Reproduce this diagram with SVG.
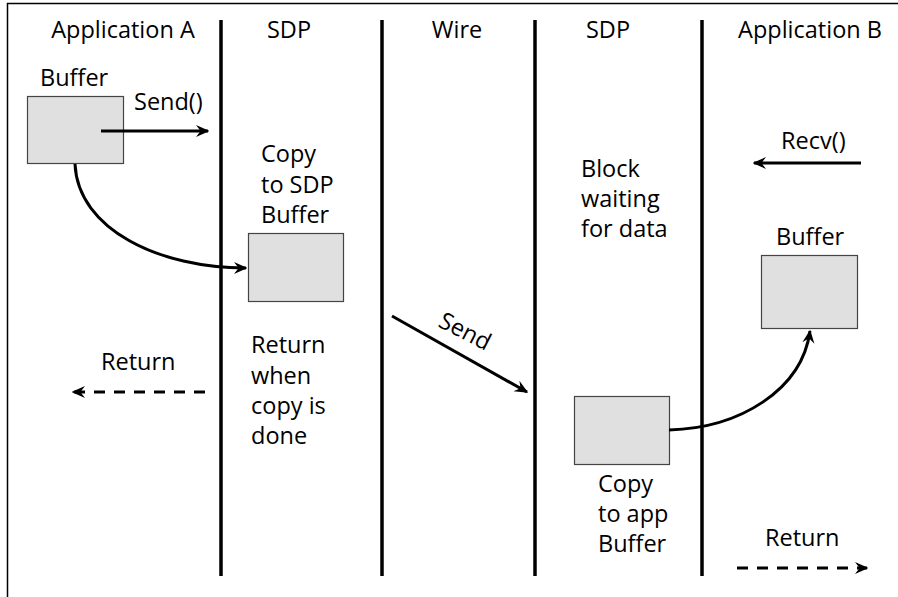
<svg xmlns="http://www.w3.org/2000/svg" width="898" height="597" viewBox="0 0 898 597">
<defs>
<style>
text{font-family:"Open Sans","Noto Sans","Liberation Sans",sans-serif;font-size:23.5px;fill:#000}
.h{text-anchor:middle}
.lane{stroke:#000;stroke-width:3.5}
.box{fill:#e0e0e0;stroke:#444;stroke-width:1.2}
.c{fill:none;stroke:#000;stroke-width:3}
.d{stroke-dasharray:11,9}
</style>
<marker id="ah" viewBox="0 0 10 10" refX="9" refY="5" markerWidth="4.5" markerHeight="4.5" orient="auto" markerUnits="strokeWidth">
<path d="M0,0.5 L10,5 L0,9.5 L3.5,5 Z" fill="#000"/>
</marker>
</defs>
<rect x="0" y="0" width="898" height="597" fill="#fff"/>
<path d="M7.5,600 V3.5 H900" fill="none" stroke="#000" stroke-width="1.5"/>
<g id="lanes">
<line class="lane" x1="221" y1="20" x2="221" y2="576"/>
<line class="lane" x1="382" y1="20" x2="382" y2="576"/>
<line class="lane" x1="535" y1="20" x2="535" y2="576"/>
<line class="lane" x1="702" y1="20" x2="702" y2="576"/>
</g>
<g id="headers">
<text class="h" x="123" y="38">Application A</text>
<text class="h" x="289" y="38">SDP</text>
<text class="h" x="457" y="38">Wire</text>
<text class="h" x="608" y="38">SDP</text>
<text class="h" x="810" y="38">Application B</text>
</g>
<g id="bufA">
<text x="40" y="86">Buffer</text>
<rect class="box" x="27.5" y="96.5" width="96" height="67"/>
</g>
<g id="bufSDP1">
<text x="261" y="162">Copy</text>
<text x="261" y="193">to SDP</text>
<text x="261" y="223">Buffer</text>
<rect class="box" x="248.5" y="233.5" width="95" height="68"/>
</g>
<g id="noteReturnA">
<text x="251" y="353">Return</text>
<text x="251" y="384">when</text>
<text x="251" y="414">copy is</text>
<text x="251" y="444">done</text>
</g>
<g id="noteBlock">
<text x="581" y="177">Block</text>
<text x="581" y="207">waiting</text>
<text x="581" y="237">for data</text>
</g>
<g id="bufSDP2">
<rect class="box" x="574.5" y="396.5" width="95" height="68"/>
<text x="598" y="492">Copy</text>
<text x="598" y="522">to app</text>
<text x="598" y="552">Buffer</text>
</g>
<g id="bufB">
<text x="776" y="245">Buffer</text>
<rect class="box" x="761.5" y="255.5" width="96" height="73"/>
</g>
<g id="connectors">
<line class="c" x1="101" y1="131" x2="208" y2="131" marker-end="url(#ah)"/>
<text x="134" y="110">Send()</text>
<path class="c" d="M75,164 C78,230 160,268 246,268" marker-end="url(#ah)"/>
<line class="c d" x1="205" y1="392" x2="73" y2="392" marker-end="url(#ah)"/>
<text x="101" y="370">Return</text>
<line class="c" x1="392" y1="316" x2="527" y2="392" marker-end="url(#ah)"/>
<text x="437" y="326" transform="rotate(27 437 326)">Send</text>
<line class="c" x1="861" y1="163" x2="754" y2="163" marker-end="url(#ah)"/>
<text x="781" y="149">Recv()</text>
<path class="c" d="M669,430 C740,428 802,390 810,331" marker-end="url(#ah)"/>
<line class="c d" x1="737" y1="568" x2="867" y2="568" marker-end="url(#ah)"/>
<text x="765" y="546">Return</text>
</g>
</svg>
